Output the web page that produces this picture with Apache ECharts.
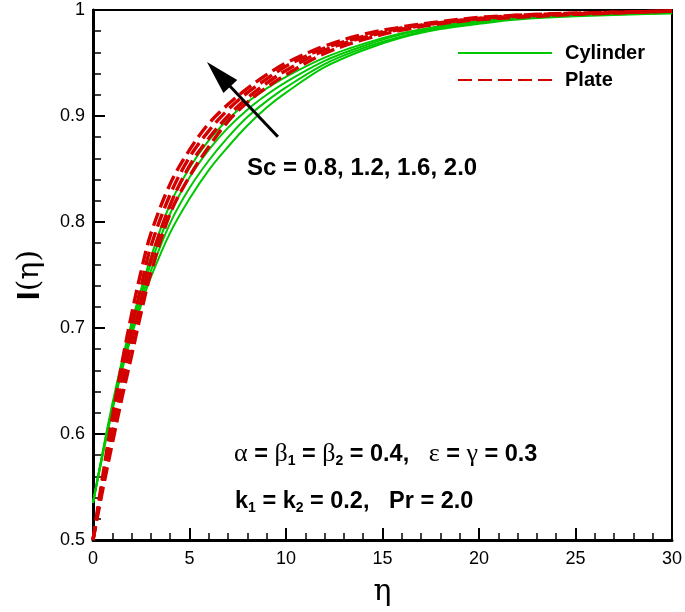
<!DOCTYPE html>
<html>
<head>
<meta charset="utf-8">
<script src="https://cdn.jsdelivr.net/npm/echarts@6/dist/echarts.min.js"></script>
<style>
html,body{margin:0;padding:0;background:#fff;}
#chart{width:685px;height:612px;}
</style>
</head>
<body>
<div id="chart"></div>
<script>
// eta grid
const eta = [0, 0.5, 1, 1.5, 2, 2.5, 3, 4, 5, 6, 7, 8, 9, 10, 12, 14, 16, 18, 20, 22, 25, 30];
// Cylinder (Sc = 0.8, 1.2, 1.6, 2.0)
const cyl08 = [0.535, 0.580, 0.622, 0.660, 0.693, 0.722, 0.748, 0.790, 0.822, 0.849, 0.871, 0.891, 0.908, 0.922, 0.946, 0.962, 0.974, 0.982, 0.987, 0.991, 0.994, 0.997];
const cyl12 = [0.535, 0.581, 0.624, 0.663, 0.697, 0.727, 0.754, 0.799, 0.832, 0.858, 0.880, 0.899, 0.914, 0.927, 0.949, 0.964, 0.975, 0.983, 0.988, 0.992, 0.995, 0.997];
const cyl16 = [0.535, 0.582, 0.626, 0.666, 0.701, 0.732, 0.761, 0.808, 0.842, 0.868, 0.889, 0.906, 0.920, 0.932, 0.952, 0.966, 0.977, 0.984, 0.989, 0.992, 0.995, 0.998];
const cyl20 = [0.535, 0.583, 0.628, 0.669, 0.705, 0.737, 0.767, 0.817, 0.851, 0.877, 0.897, 0.913, 0.926, 0.937, 0.955, 0.968, 0.978, 0.985, 0.990, 0.993, 0.996, 0.998];
// Plate (Sc = 0.8, 1.2, 1.6, 2.0)
const pla08 = [0.500, 0.547, 0.591, 0.634, 0.674, 0.715, 0.752, 0.808, 0.843, 0.871, 0.895, 0.913, 0.927, 0.939, 0.959, 0.972, 0.981, 0.987, 0.991, 0.993, 0.996, 0.999];
const pla12 = [0.500, 0.551, 0.599, 0.645, 0.687, 0.726, 0.764, 0.816, 0.853, 0.879, 0.900, 0.917, 0.931, 0.943, 0.962, 0.974, 0.982, 0.988, 0.992, 0.994, 0.996, 0.999];
const pla16 = [0.500, 0.556, 0.608, 0.656, 0.700, 0.740, 0.777, 0.826, 0.861, 0.886, 0.906, 0.922, 0.935, 0.947, 0.964, 0.975, 0.983, 0.988, 0.992, 0.995, 0.997, 0.999];
const pla20 = [0.500, 0.560, 0.616, 0.667, 0.713, 0.754, 0.789, 0.836, 0.868, 0.893, 0.911, 0.926, 0.939, 0.950, 0.966, 0.977, 0.984, 0.989, 0.993, 0.995, 0.997, 0.999];
// arrow annotation (data coordinates): tail, head centre
const arrowTail = [9.58, 0.8805];
const arrowHead = [6.51, 0.9394];
// texts
const xName = 'η';
const legendNames = ['Cylinder', 'Plate'];

const chart = echarts.init(document.getElementById('chart'), null, {renderer: 'canvas'});
const zip = a => eta.map((x, i) => [x, a[i]]);
const GREEN = '#00c800';
const RED = '#d40000';

function cylSeries(arr) {
  return {name: 'Cylinder', type: 'line', data: zip(arr), showSymbol: false, symbol: 'none',
    smooth: 0.35, lineStyle: {color: GREEN, width: 2}, itemStyle: {color: GREEN}, z: 2};
}
function plaSeries(arr) {
  return {name: 'Plate', type: 'line', data: zip(arr), showSymbol: false, symbol: 'none',
    smooth: 0.35, lineStyle: {color: RED, width: 3.4, type: [14, 6]}, itemStyle: {color: RED}, z: 3};
}

const series = [cylSeries(cyl08), cylSeries(cyl12), cylSeries(cyl16), cylSeries(cyl20),
  plaSeries(pla08), plaSeries(pla12), plaSeries(pla16), plaSeries(pla20)];

series[0].markLine = {
  silent: true, animation: false,
  symbol: ['none', 'triangle'], symbolSize: [19, 34],
  label: {show: false},
  lineStyle: {color: '#000', width: 3, type: 'solid'},
  data: [[{coord: arrowTail}, {coord: arrowHead}]]
};

const sansB = 'Liberation Sans';
const option = {
  animation: false,
  backgroundColor: '#fff',
  grid: {left: 93, right: 12, top: 10, bottom: 72, show: true, borderColor: '#000', borderWidth: 2},
  legend: {
    data: legendNames, orient: 'vertical', left: 452, top: 38, itemWidth: 94, itemHeight: 14, itemGap: 7,
    itemStyle: {opacity: 0},
    textStyle: {fontFamily: sansB, fontWeight: 'bold', fontSize: 20, color: '#000', padding: [0, 0, 0, 8]},
    selectedMode: false
  },
  xAxis: {
    type: 'value', min: 0, max: 30, interval: 5,
    name: xName, nameLocation: 'middle', nameGap: 37,
    nameTextStyle: {fontFamily: 'DejaVu Serif', fontSize: 30, color: '#000'},
    axisLine: {lineStyle: {color: '#000', width: 3}},
    axisTick: {inside: true, length: 12, lineStyle: {color: '#000', width: 2}},
    minorTick: {show: true, splitNumber: 5, length: 7, lineStyle: {color: '#000', width: 1.5}},
    splitLine: {show: false},
    axisLabel: {color: '#000', fontFamily: sansB, fontSize: 18, margin: 10}
  },
  yAxis: {
    type: 'value', min: 0.5, max: 1, interval: 0.1,
    name: '{b|I}{r|(η)}', nameLocation: 'middle', nameGap: 47,
    nameTextStyle: {color: '#000', rich: {
      b: {fontFamily: sansB, fontWeight: 'bold', fontSize: 32, color: '#000'},
      r: {fontFamily: 'DejaVu Serif', fontSize: 30, color: '#000'}
    }},
    axisLine: {lineStyle: {color: '#000', width: 3}},
    axisTick: {inside: true, length: 12, lineStyle: {color: '#000', width: 2}},
    minorTick: {show: true, splitNumber: 5, length: 8, lineStyle: {color: '#000', width: 1.5}},
    splitLine: {show: false},
    axisLabel: {color: '#000', fontFamily: sansB, fontSize: 18, margin: 8,
      formatter: v => (Math.abs(v - 1) < 1e-9 ? '1' : v.toFixed(1))}
  },
  graphic: [
    {type: 'text', left: 247, top: 156, z: 10, style: {
      text: 'Sc = 0.8, 1.2, 1.6, 2.0', fill: '#000', font: 'bold 24px "Liberation Sans"'}},
    {type: 'text', left: 234, top: 441, z: 10, style: {
      text: '{g|α}{b| = }{g|β}{s|1}{b| = }{g|β}{s|2}{b| = 0.4,   }{g|ε}{b| = }{g|γ}{b| = 0.3}',
      rich: {
        g: {fontFamily: 'Liberation Serif', fontSize: 26, fill: '#000', lineHeight: 30},
        b: {fontFamily: sansB, fontWeight: 'bold', fontSize: 23.5, fill: '#000', lineHeight: 30},
        s: {fontFamily: sansB, fontWeight: 'bold', fontSize: 14, fill: '#000', lineHeight: 30, padding: [13, 0, 0, 0]}
      }}},
    {type: 'text', left: 235, top: 488, z: 10, style: {
      text: '{b|k}{s|1}{b| = k}{s|2}{b| = 0.2,   Pr = 2.0}',
      rich: {
        b: {fontFamily: sansB, fontWeight: 'bold', fontSize: 23.5, fill: '#000', lineHeight: 30},
        s: {fontFamily: sansB, fontWeight: 'bold', fontSize: 14, fill: '#000', lineHeight: 30, padding: [13, 0, 0, 0]}
      }}}
  ],
  series: series
};
chart.setOption(option);
</script>
</body>
</html>
